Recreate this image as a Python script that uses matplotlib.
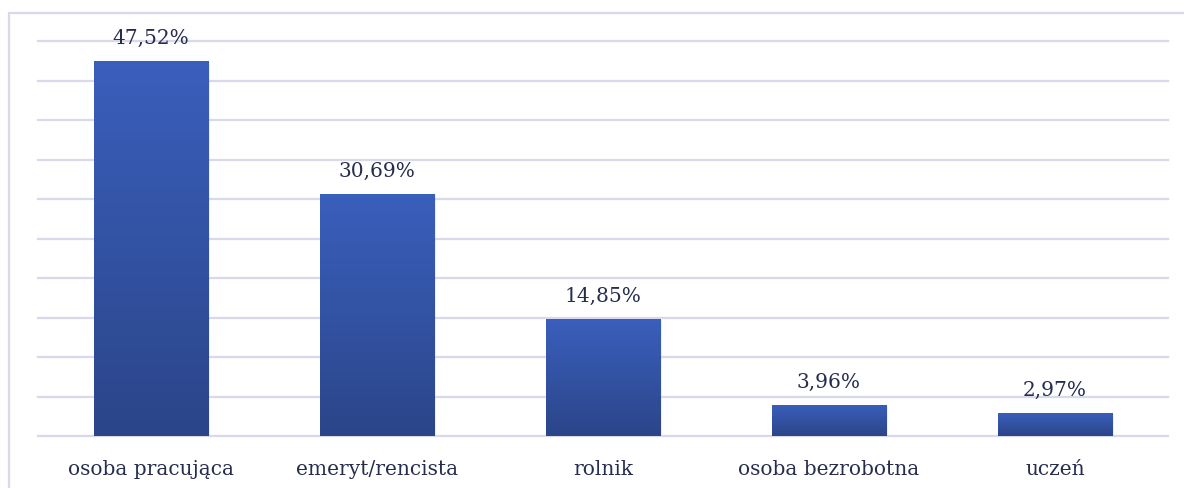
import numpy as np
import matplotlib
matplotlib.use("Agg")
import matplotlib.pyplot as plt
from matplotlib.colors import LinearSegmentedColormap
from matplotlib.patches import Rectangle

categories = ["osoba pracująca", "emeryt/rencista", "rolnik", "osoba bezrobotna", "uczeń"]
values = [47.52, 30.69, 14.85, 3.96, 2.97]
labels = ["47,52%", "30,69%", "14,85%", "3,96%", "2,97%"]

plt.rcParams['font.family'] = ['DejaVu Serif']

text_color = "#262d4f"
grid_color = "#d9d9ec"
bar_cmap = LinearSegmentedColormap.from_list("bars", ["#2b4589", "#3a5fbc"])

fig = plt.figure(figsize=(11.84, 4.89), dpi=100)
ax = fig.add_axes([38 / 1184, 52 / 489, 1130 / 1184, 395 / 489])

# outer frame of the chart area
frame = Rectangle((9 / 1184, -0.1), 1.2, (489 - 14) / 489 + 0.1, transform=fig.transFigure,
                  fill=False, edgecolor=grid_color, linewidth=1.6)
fig.patches.append(frame)

x = np.arange(len(categories))
width = 0.505
ax.set_xlim(-0.5, len(categories) - 0.5)
ax.set_ylim(0, 50)
ax.set_yticks(np.arange(0, 51, 5))
ax.yaxis.grid(True, color=grid_color, linewidth=1.6)
ax.set_axisbelow(True)
for s in ax.spines.values():
    s.set_visible(False)
ax.tick_params(axis='y', left=False, labelleft=False)
ax.tick_params(axis='x', bottom=False, pad=13, labelsize=14.5, labelcolor=text_color)
ax.set_xticks(x)
ax.set_xticklabels(categories)
for gl in ax.get_ygridlines():
    gl.set_clip_on(False)

grad = np.linspace(0, 1, 256).reshape(-1, 1)
for xi, v, lab in zip(x, values, labels):
    # soft shadow on the right side
    for k, a in zip(range(1, 5), [0.12, 0.08, 0.05, 0.03]):
        ax.add_patch(Rectangle((xi - width / 2 + k * 0.0025, 0), width, v - k * 0.05,
                               facecolor="#555566", edgecolor="none", alpha=a, zorder=2))
    bar = Rectangle((xi - width / 2, 0), width, v, facecolor="none", edgecolor="none", zorder=3)
    ax.add_patch(bar)
    im = ax.imshow(grad, cmap=bar_cmap, aspect='auto', origin='lower',
                   extent=(xi - width / 2, xi + width / 2, 0, v), zorder=3)
    im.set_clip_path(bar)
    ax.annotate(lab, (xi, v), xytext=(0, 10), textcoords='offset points',
                ha='center', va='bottom', fontsize=14.5, color=text_color)

ax.set_xlim(-0.5, len(categories) - 0.5)
ax.set_ylim(0, 50)
fig.savefig("out.png", dpi=100)
